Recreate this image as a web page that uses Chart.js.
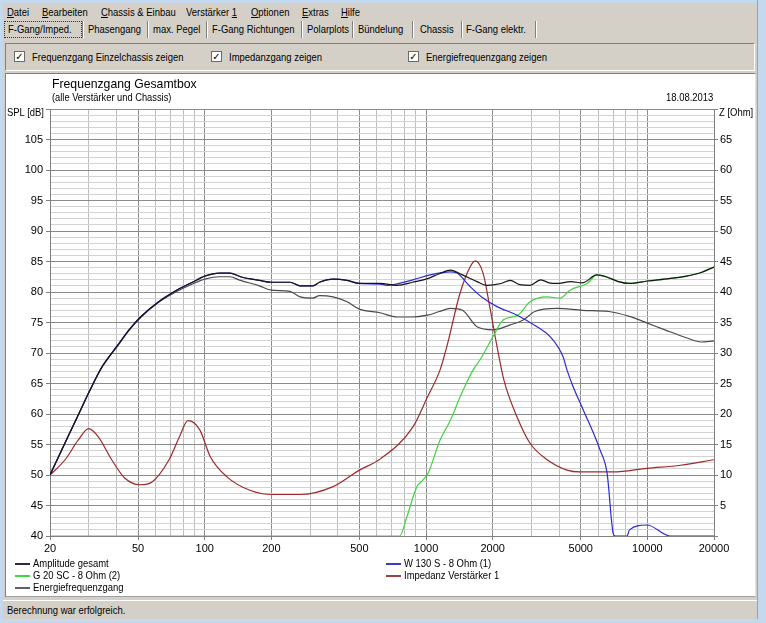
<!DOCTYPE html>
<html>
<head>
<meta charset="utf-8">
<script src="https://cdn.jsdelivr.net/npm/chart.js@4.4.1/dist/chart.umd.min.js"></script>
<style>
  body { margin: 0; width: 766px; height: 623px; overflow: hidden; background: #d4d0c8;
         font-family: "Liberation Sans", Arial, sans-serif; font-size: 11px; color: #000; position: relative; }
  .abs { position: absolute; white-space: nowrap; }
  .t { transform: scaleX(0.86); transform-origin: 0 0; }
  .frameL { left: 0; top: 0; width: 3px; height: 623px; background: #c4d8ee; }
  .frameR { left: 757px; top: 0; width: 9px; height: 623px; background: #c4d8ee; border-left: 1px solid #8aa6c4; box-sizing: border-box; }
  .frameB { left: 0; top: 619px; width: 766px; height: 4px; background: #c4d8ee; }
  .frameT { left: 0; top: 0; width: 766px; height: 3px; background: #c4d8ee; }
  .menu u { text-decoration: underline; }
  .tab { top: 22px; height: 15px; line-height: 15px; }
  .sep { top: 21px; width: 1px; height: 17px; background: #808080; border-right: 1px solid #fff; }
  .panel { left: 5px; top: 43px; width: 750px; height: 28px; box-sizing: border-box;
           border-top: 1px solid #808080; border-left: 1px solid #808080; border-right: 1px solid #fff; border-bottom: 1px solid #fff; }
  .cb { width: 11px; height: 11px; background: #fff; box-sizing: border-box; border: 1px solid #6a6a6a;
        font: bold 10px "DejaVu Sans", sans-serif; line-height: 9px; text-align: center; }
  .white { left: 5px; top: 73px; width: 751px; height: 524px; background: #fff; box-sizing: border-box;
           border-top: 1px solid #808080; border-left: 1px solid #808080; border-right: 1px solid #e0e0e0; border-bottom: 1px solid #a0a0a0; }
  .status { left: 3px; top: 600px; width: 754px; height: 18px; border-top: 1px solid #fff; }
  .leg-line { height: 2px; width: 15px; }
  #chart { position: absolute; left: 6px; top: 74px; }
</style>
</head>
<body>
<div class="abs frameT"></div>
<div class="abs frameL"></div>
<div class="abs frameR"></div>
<div class="abs frameB"></div>

<div class="abs menu t" style="left:7px;top:6px;"><u>D</u>atei</div>
<div class="abs menu t" style="left:42px;top:6px;"><u>B</u>earbeiten</div>
<div class="abs menu t" style="left:101px;top:6px;"><u>C</u>hassis &amp; Einbau</div>
<div class="abs menu t" style="left:186px;top:6px;">Verstärker <u>1</u></div>
<div class="abs menu t" style="left:251px;top:6px;"><u>O</u>ptionen</div>
<div class="abs menu t" style="left:302px;top:6px;"><u>E</u>xtras</div>
<div class="abs menu t" style="left:341px;top:6px;"><u>H</u>ilfe</div>

<div class="abs" style="left:4px;top:21px;width:76px;height:15px;border:1px dotted #333;"></div>
<div class="abs tab t" style="left:8px;">F-Gang/Imped.</div>
<div class="abs sep" style="left:82px;"></div>
<div class="abs tab t" style="left:88px;">Phasengang</div>
<div class="abs sep" style="left:147px;"></div>
<div class="abs tab t" style="left:153px;">max. Pegel</div>
<div class="abs sep" style="left:206px;"></div>
<div class="abs tab t" style="left:212px;">F-Gang Richtungen</div>
<div class="abs sep" style="left:301px;"></div>
<div class="abs tab t" style="left:307px;">Polarplots</div>
<div class="abs sep" style="left:352px;"></div>
<div class="abs tab t" style="left:358px;">Bündelung</div>
<div class="abs sep" style="left:412px;"></div>
<div class="abs tab t" style="left:420px;">Chassis</div>
<div class="abs sep" style="left:461px;"></div>
<div class="abs tab t" style="left:466px;">F-Gang elektr.</div>
<div class="abs sep" style="left:535px;"></div>

<div class="abs panel"></div>
<div class="abs cb" style="left:14px;top:51px;">✓</div>
<div class="abs t" style="left:32px;top:51px;">Frequenzgang Einzelchassis zeigen</div>
<div class="abs cb" style="left:211px;top:51px;">✓</div>
<div class="abs t" style="left:229px;top:51px;">Impedanzgang zeigen</div>
<div class="abs cb" style="left:408px;top:51px;">✓</div>
<div class="abs t" style="left:426px;top:51px;">Energiefrequenzgang zeigen</div>

<div class="abs white"></div>
<canvas id="chart" width="748" height="486"></canvas>

<div class="abs" style="left:52px;top:76px;font-size:13px;transform:scaleX(0.94);transform-origin:0 0;">Frequenzgang Gesamtbox</div>
<div class="abs" style="left:52px;top:92px;font-size:10px;transform:scaleX(0.93);transform-origin:0 0;">(alle Verstärker und Chassis)</div>
<div class="abs t" style="left:666px;top:91px;">18.08.2013</div>
<div class="abs t" style="left:7px;top:106px;">SPL [dB]</div>
<div class="abs t" style="left:719px;top:106px;">Z [Ohm]</div>

<div id="legend"></div>

<div class="abs status"></div>
<div class="abs t" style="left:7px;top:604px;">Berechnung war erfolgreich.</div>

<script>
// Gesamtfrequenzgang (SPL dB)
const ampFreq = [20, 23.4, 26.8, 30.3, 34.3, 40.7, 45.5, 51.3, 61.9, 72.3, 88, 100, 117, 130, 145, 177, 200, 243, 270, 308, 330, 380, 440, 500, 620, 740, 870, 1015, 1150, 1290, 1460, 1700, 1880, 2180, 2400, 2650, 2950, 3300, 3600, 3900, 4500, 5100, 5900, 6500, 7400, 8300, 10000, 12500, 15000, 17500, 20000];
const ampDb = [50, 55.3, 59.8, 63.9, 67.7, 71.4, 73.8, 75.9, 78.4, 80.0, 81.6, 82.6, 83.1, 83.1, 82.5, 81.9, 81.6, 81.6, 81.0, 81.0, 81.6, 82.1, 81.9, 81.4, 81.4, 81.1, 81.6, 82.2, 83.0, 83.6, 82.8, 81.7, 81.1, 81.4, 81.9, 81.2, 81.1, 82.0, 81.5, 81.4, 81.7, 81.5, 82.8, 82.5, 81.7, 81.4, 81.8, 82.2, 82.6, 83.2, 84.1];

// Energiefrequenzgang
const energyFreq = [20, 23.4, 26.8, 30.3, 34.3, 40.7, 45.5, 51.3, 61.9, 72.3, 88, 100, 117, 130, 145, 177, 200, 243, 270, 308, 330, 380, 440, 500, 620, 740, 870, 1015, 1150, 1290, 1460, 1700, 2000, 2400, 2750, 3100, 3900, 5100, 6700, 8300, 10000, 12000, 15000, 17500, 20000];
const energyDb = [50, 55.3, 59.8, 63.9, 67.6, 71.3, 73.7, 75.8, 78.3, 79.8, 81.3, 82.1, 82.5, 82.5, 81.9, 81.0, 80.3, 80.1, 79.2, 79.0, 79.4, 79.2, 78.4, 77.2, 76.6, 75.9, 75.9, 76.2, 76.8, 77.3, 77.0, 74.3, 73.8, 74.6, 75.4, 76.8, 77.3, 77.0, 76.8, 76.0, 74.9, 73.8, 72.5, 71.8, 72.0];

// W 130 S - 8 Ohm (1)
const wooferFreq = [20, 23.4, 26.8, 30.3, 34.3, 40.7, 45.5, 51.3, 61.9, 72.3, 88, 100, 117, 130, 145, 177, 200, 243, 270, 308, 330, 380, 440, 500, 620, 667, 873, 1042, 1284, 1380, 1581, 1810, 2094, 2578, 3174, 3634, 4160, 4336, 4614, 5128, 6112, 6576, 7000, 7150, 8100, 8300, 9970, 12670, 20000];
const wooferDb = [50, 55.3, 59.8, 63.9, 67.7, 71.4, 73.8, 75.9, 78.4, 80.0, 81.6, 82.6, 83.1, 83.1, 82.5, 81.9, 81.6, 81.6, 81.0, 81.0, 81.6, 82.1, 81.9, 81.4, 81.3, 81.1, 82.0, 82.8, 83.3, 83.1, 80.9, 79.0, 77.6, 76.2, 74.3, 72.7, 69.4, 67.2, 64.5, 60.7, 54.1, 50.3, 40.5, 40, 40, 41, 41.8, 40, 40];

// G 20 SC - 8 Ohm (2)
const tweeterFreq = [20, 760, 820, 910, 970, 1022, 1156, 1290, 1424, 1470, 1630, 1754, 2008, 2228, 2600, 2950, 3524, 4034, 4474, 5346, 5926, 6780, 7400, 8300, 10000, 12500, 15000, 17500, 20000];
const tweeterDb = [40, 40, 43.2, 48.1, 49.2, 50.3, 55.7, 59.0, 62.8, 63.9, 67.2, 68.9, 72.7, 75.4, 76.2, 78.4, 79.2, 79.0, 80.3, 81.4, 82.8, 82.3, 81.7, 81.4, 81.8, 82.2, 82.6, 83.2, 84.1];

// Impedanz Verstärker 1 (Ohm)
const impFreq = [20, 23.4, 26.8, 29.9, 33, 38, 43.5, 51, 58, 69, 77, 84, 95, 106, 126, 160, 202, 270, 380, 500, 620, 873, 1015, 1156, 1240, 1424, 1581, 1670, 1810, 1940, 2094, 2250, 2578, 2950, 3524, 4336, 4940, 7000, 9970, 14140, 20000];
const impOhm = [10, 12.5, 15.7, 17.6, 16.3, 12.5, 9.5, 8.4, 8.9, 12.5, 16.3, 18.9, 17.4, 13.0, 9.7, 7.5, 6.8, 6.8, 8.1, 10.8, 12.6, 17.9, 22.8, 27.2, 31.0, 39.8, 44.1, 45.1, 43.1, 37.6, 31.0, 25.5, 19.5, 15.2, 12.5, 10.8, 10.5, 10.5, 11.1, 11.6, 12.5];

const xTickLabels = [20, 50, 100, 200, 500, 1000, 2000, 5000, 10000, 20000];
const splTickStep = 5;
const ohmTickStep = 5;

const xGrid = [];
[10, 100, 1000, 10000].forEach(d => {
  for (let m = 1; m <= 9; m++) {
    const v = d * m;
    if (v >= 20 && v <= 20000) xGrid.push(v);
  }
});

function pts(fs, vs) {
  return fs.map((f, i) => ({ x: f, y: vs[i] }));
}

const ds = [
  { label: 'Amplitude gesamt', data: pts(ampFreq, ampDb), borderColor: '#151515', legendColor: '#2a2a40', borderWidth: 1.2, yAxisID: 'y' },
  { label: 'W 130 S - 8 Ohm (1)', data: pts(wooferFreq, wooferDb), borderColor: '#2b2bd6', legendColor: '#3a3ad0', borderWidth: 1.2, yAxisID: 'y' },
  { label: 'G 20 SC - 8 Ohm (2)', data: pts(tweeterFreq, tweeterDb), borderColor: '#3fd23f', legendColor: '#40d840', borderWidth: 1.2, yAxisID: 'y' },
  { label: 'Impedanz Verstärker 1', data: pts(impFreq, impOhm), borderColor: '#9c2a2a', legendColor: '#a04040', borderWidth: 1.2, yAxisID: 'y2' },
  { label: 'Energiefrequenzgang', data: pts(energyFreq, energyDb), borderColor: '#4a4a4a', legendColor: '#606060', borderWidth: 1.2, yAxisID: 'y' }
];
ds.forEach(d => { d.pointRadius = 0; d.fill = false; d.cubicInterpolationMode = 'monotone'; });

const tickFont = { family: '"Liberation Sans", Arial, sans-serif', size: 11 };

new Chart(document.getElementById('chart').getContext('2d'), {
  type: 'line',
  data: { datasets: ds },
  options: {
    responsive: false,
    animation: false,
    devicePixelRatio: 1,
    layout: { padding: { top: 35, left: 0, right: 0, bottom: 0 } },
    plugins: { legend: { display: false }, tooltip: { enabled: false } },
    scales: {
      x: {
        type: 'logarithmic',
        min: 20,
        max: 20000,
        afterBuildTicks: s => { s.ticks = xGrid.map(v => ({ value: v })); },
        afterFit: s => { s.height = 24; },
        ticks: {
          autoSkip: false, maxRotation: 0, minRotation: 0, padding: 2, color: '#000', font: tickFont,
          callback: v => xTickLabels.includes(v) ? String(v) : ''
        },
        grid: {
          color: c => xTickLabels.includes(c.tick && c.tick.value) ? '#8a8a8a' : '#bdbdbd',
          tickColor: c => xTickLabels.includes(c.tick && c.tick.value) ? '#808080' : 'rgba(0,0,0,0)',
          tickLength: 4
        },
        border: { color: '#808080' }
      },
      y: {
        type: 'linear',
        position: 'left',
        min: 40,
        max: 110,
        afterBuildTicks: s => { const t = []; for (let v = 40; v <= 110; v++) t.push({ value: v }); s.ticks = t; },
        afterFit: s => { s.width = 44; },
        ticks: {
          autoSkip: false, padding: 3, color: '#000', font: tickFont,
          callback: v => (v % splTickStep === 0 && v < 110) ? String(v) : ''
        },
        grid: {
          color: c => (c.tick && c.tick.value % 5 === 0) ? '#8a8a8a' : '#d2d2d2',
          tickColor: c => (c.tick && c.tick.value % 5 === 0) ? '#808080' : 'rgba(0,0,0,0)',
          tickLength: 4
        },
        border: { color: '#808080' }
      },
      y2: {
        type: 'linear',
        position: 'right',
        min: 0,
        max: 70,
        afterBuildTicks: s => { const t = []; for (let v = 0; v <= 70; v += ohmTickStep) t.push({ value: v }); s.ticks = t; },
        afterFit: s => { s.width = 40; },
        ticks: {
          autoSkip: false, padding: 2, color: '#000', font: tickFont,
          callback: v => (v > 0 && v < 70) ? String(v) : ''
        },
        grid: { drawOnChartArea: false, color: '#808080', tickLength: 4 },
        border: { color: '#808080' }
      }
    }
  }
});

// legend in two columns like the original window
const legendPos = [
  { i: 0, x: 15, y: 557 },
  { i: 1, x: 386, y: 557 },
  { i: 2, x: 15, y: 569 },
  { i: 3, x: 386, y: 569 },
  { i: 4, x: 15, y: 581 }
];
const lg = document.getElementById('legend');
legendPos.forEach(p => {
  const d = ds[p.i];
  const line = document.createElement('div');
  line.className = 'abs leg-line';
  line.style.left = p.x + 'px';
  line.style.top = (p.y + 6) + 'px';
  line.style.background = d.legendColor;
  lg.appendChild(line);
  const t = document.createElement('div');
  t.className = 'abs t';
  t.style.left = (p.x + 18) + 'px';
  t.style.top = p.y + 'px';
  t.textContent = d.label;
  lg.appendChild(t);
});
</script>
</body>
</html>
